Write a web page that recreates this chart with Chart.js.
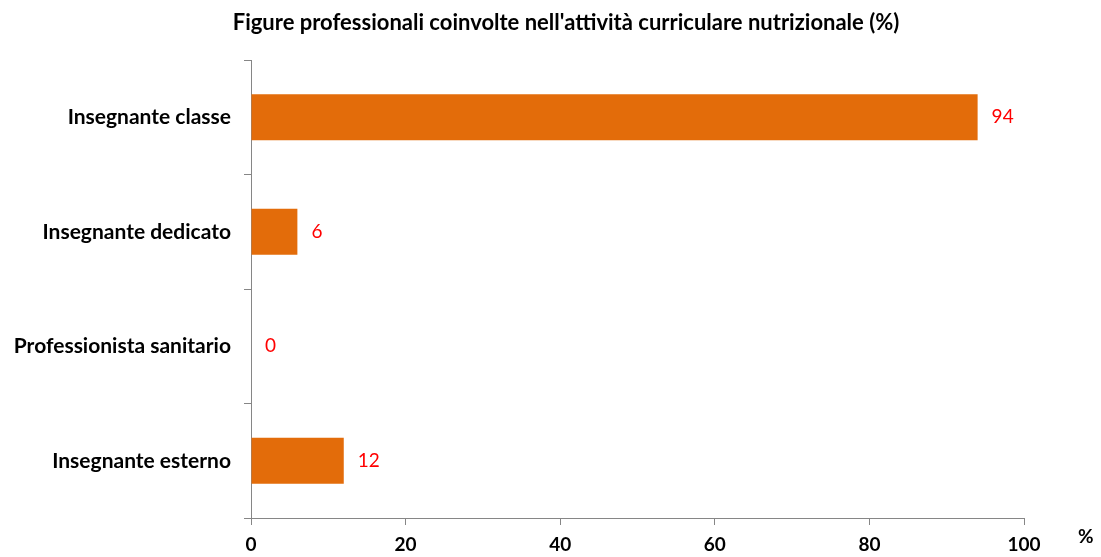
<!DOCTYPE html>
<html lang="it">
<head>
    <meta charset="UTF-8">
    <title>Figure professionali</title>
    <style>
        html, body { margin: 0; padding: 0; background: #fff; }
        #wrap { width: 1101px; height: 557px; }
    </style>
</head>
<body>
<script src="https://cdn.jsdelivr.net/npm/chart.js@4.4.1/dist/chart.umd.min.js"></script>
<div id="wrap"><canvas id="bar-chart" width="1101" height="557"></canvas></div>

<script>
    // data
    const categories = ['Insegnante classe', 'Insegnante dedicato', 'Professionista sanitario', 'Insegnante esterno'];
    const percentages = [94, 6, 0, 12];
    const xTicks = [0, 20, 40, 60, 80, 100];
    const chartTitle = "Figure professionali coinvolte nell'attività curriculare nutrizionale (%)";

    const FONT = 'Lato, "Open Sans", sans-serif';
    const AXIS_GREY = '#868686';

    // title, value labels next to each bar and the "%" unit at the end of x axis
    const extraText = {
        id: 'extraText',
        afterDatasetsDraw(chart) {
            const ctx = chart.ctx;
            const meta = chart.getDatasetMeta(0);
            ctx.save();
            ctx.textBaseline = 'middle';

            ctx.font = 'bold 22px ' + FONT;
            ctx.fillStyle = '#000';
            ctx.textAlign = 'center';
            ctx.fillText(chartTitle, 566, 23);

            ctx.font = '19px ' + FONT;
            ctx.fillStyle = '#ff0000';
            ctx.textAlign = 'left';
            meta.data.forEach(function (bar, i) {
                ctx.fillText(String(percentages[i]), bar.x + 14, bar.y);
            });

            const xs = chart.scales.x;
            ctx.font = 'bold 19px ' + FONT;
            ctx.fillStyle = '#000';
            ctx.fillText('%', xs.right + 54, xs.top + 19);
            ctx.restore();
        }
    };

    new Chart(document.getElementById('bar-chart'), {
        type: 'bar',
        data: {
            labels: categories,
            datasets: [{
                data: percentages,
                backgroundColor: '#e36c0a',
                borderWidth: 0,
                categoryPercentage: 1,
                barPercentage: 0.4
            }]
        },
        options: {
            indexAxis: 'y',
            responsive: false,
            animation: false,
            layout: { padding: { left: 0, right: 77, top: 60, bottom: 0 } },
            plugins: {
                legend: { display: false },
                tooltip: { enabled: false },
                title: { display: false }
            },
            scales: {
                x: {
                    min: 0,
                    max: 100,
                    afterBuildTicks(axis) {
                        axis.ticks = xTicks.map(v => ({ value: v }));
                    },
                    afterFit(axis) { axis.height = 39; },
                    border: { color: AXIS_GREY, width: 1 },
                    grid: {
                        drawOnChartArea: false,
                        drawTicks: true,
                        tickLength: 7,
                        color: AXIS_GREY
                    },
                    ticks: {
                        color: '#000',
                        padding: 8,
                        maxRotation: 0,
                        font: { family: FONT, size: 19, weight: 'bold' }
                    }
                },
                y: {
                    afterFit(axis) { axis.width = 251; },
                    border: { color: AXIS_GREY, width: 1 },
                    grid: {
                        drawOnChartArea: false,
                        drawTicks: true,
                        tickLength: 7,
                        offset: true,
                        color: AXIS_GREY
                    },
                    ticks: {
                        color: '#000',
                        padding: 13,
                        autoSkip: false,
                        font: { family: FONT, size: 21, weight: 'bold' }
                    }
                }
            }
        },
        plugins: [extraText]
    });
</script>
</body>
</html>
